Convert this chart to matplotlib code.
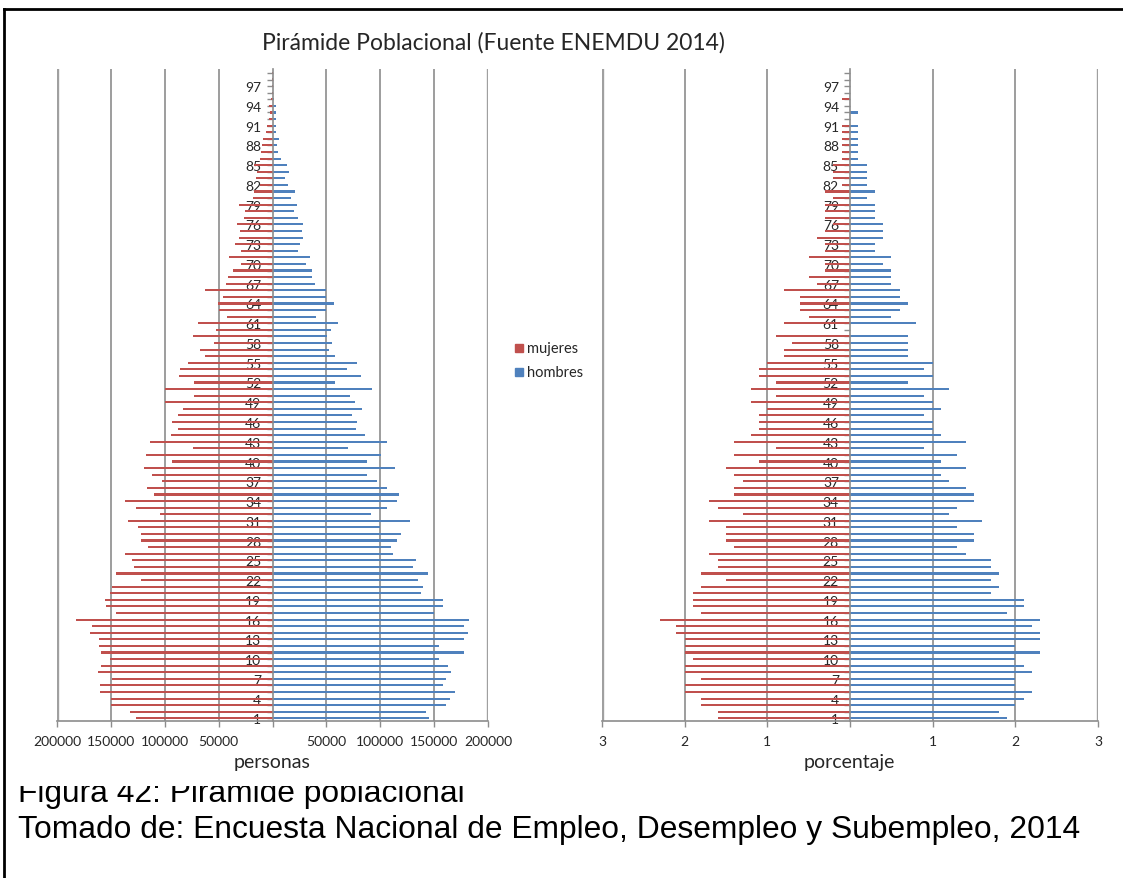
import matplotlib
matplotlib.use("Agg")
import matplotlib.pyplot as plt
import numpy as np
from matplotlib.patches import Rectangle
from matplotlib.lines import Line2D
from matplotlib.transforms import Bbox

# Edades simples 1..99
edades = list(range(1, 100))

# Número de personas por edad (ENEMDU 2014)
mujeres_personas = [
    126500, 132700, 149700, 149700, 160500, 160500, 149100, 162000, 159500, 151200,
    158900, 161400, 161100, 169100, 167300, 182700, 145000, 154900, 155800, 150600,
    149100, 122500, 145700, 128700, 130500, 136700, 115700, 121900, 121900, 124400,
    134200, 104300, 126500, 136700, 110200, 116300, 102800, 111700, 119700, 93200,
    117300, 73400, 113600, 94100, 88000, 93200, 87300, 83300, 99400, 73100,
    99400, 73100, 86400, 85800, 78100, 62600, 67300, 54000, 73400, 52500,
    68800, 42600, 49400, 50300, 45700, 63000, 43200, 41000, 36400, 29300,
    40100, 29300, 34600, 31500, 29900, 33000, 26800, 25300, 31500, 18500,
    17600, 11400, 15400, 14200, 17300, 11400, 10800, 9900, 8600, 6200,
    5200, 3700, 2500, 3100, 1500, 900, 600, 300, 200,
]
hombres_personas = [
    145700, 142000, 161100, 164500, 169100, 158300, 161100, 165700, 162900, 154300,
    178100, 154300, 178100, 181100, 177400, 182100, 149700, 158000, 158300, 137900,
    139800, 135200, 144100, 130200, 133600, 112000, 110200, 115100, 118800, 99700,
    127500, 91000, 106500, 115100, 117300, 106500, 96600, 87300, 113300, 88000,
    100900, 70100, 106500, 85800, 77200, 78700, 74100, 83300, 76500, 71600,
    92600, 57700, 81800, 69400, 78100, 58000, 52500, 55500, 50900, 54000,
    60800, 40100, 50000, 57100, 50000, 50000, 39200, 37000, 37000, 30900,
    35200, 23800, 25300, 28400, 27200, 28700, 24100, 20000, 22500, 17000,
    21000, 14500, 11400, 15400, 13900, 8300, 5200, 4600, 5600, 3700,
    3700, 3100, 3700, 3700, 1500, 900, 600, 300, 200,
]

# Porcentaje de la población por edad
mujeres_pct = [
    1.6, 1.6, 1.8, 1.8, 2.0, 2.0, 1.8, 2.0, 2.0, 1.9,
    2.0, 2.0, 2.0, 2.1, 2.1, 2.3, 1.8, 1.9, 1.9, 1.9,
    1.8, 1.5, 1.8, 1.6, 1.6, 1.7, 1.4, 1.5, 1.5, 1.5,
    1.7, 1.3, 1.6, 1.7, 1.4, 1.4, 1.3, 1.4, 1.5, 1.1,
    1.4, 0.9, 1.4, 1.2, 1.1, 1.1, 1.1, 1.0, 1.2, 0.9,
    1.2, 0.9, 1.1, 1.1, 1.0, 0.8, 0.8, 0.7, 0.9, 0.0,
    0.8, 0.5, 0.6, 0.6, 0.6, 0.8, 0.4, 0.5, 0.3, 0.3,
    0.5, 0.3, 0.3, 0.4, 0.3, 0.2, 0.3, 0.3, 0.3, 0.2,
    0.3, 0.1, 0.2, 0.2, 0.2, 0.1, 0.1, 0.1, 0.1, 0.1,
    0.1, 0.0, 0.0, 0.0, 0.1, 0.0, 0.0, 0.0, 0.0,
]
hombres_pct = [
    1.9, 1.8, 2.0, 2.1, 2.2, 2.0, 2.0, 2.2, 2.1, 2.0,
    2.3, 2.0, 2.3, 2.3, 2.2, 2.3, 1.9, 2.1, 2.1, 1.7,
    1.8, 1.7, 1.8, 1.7, 1.7, 1.4, 1.3, 1.5, 1.5, 1.3,
    1.6, 1.2, 1.3, 1.5, 1.5, 1.4, 1.2, 1.1, 1.4, 1.1,
    1.3, 0.9, 1.4, 1.1, 1.0, 1.0, 0.9, 1.1, 1.0, 0.9,
    1.2, 0.7, 1.0, 0.9, 1.0, 0.7, 0.7, 0.7, 0.7, 0.0,
    0.8, 0.5, 0.6, 0.7, 0.6, 0.6, 0.5, 0.5, 0.5, 0.4,
    0.5, 0.3, 0.3, 0.4, 0.4, 0.4, 0.3, 0.3, 0.3, 0.2,
    0.3, 0.2, 0.2, 0.2, 0.2, 0.1, 0.1, 0.1, 0.1, 0.1,
    0.1, 0.0, 0.1, 0.0, 0.0, 0.0, 0.0, 0.0, 0.0,
]

etiquetas_personas = ["200000", "150000", "100000", "50000", "",
                      "50000", "100000", "150000", "200000"]
etiquetas_pct = ["3", "2", "1", "", "1", "2", "3"]

W, H = 1123, 879
fig = plt.figure(figsize=(W / 100, H / 100), dpi=100)
fig.patch.set_facecolor("white")

ROJO = "#c0504d"
AZUL = "#4f81bd"
GRIS = "#8c8c8c"
TEXTO = "#262626"
FUENTE = "Lato"


def ejes_px(x0, x1, y_top, y_bot):
    return fig.add_axes([x0 / W, 1 - y_bot / H, (x1 - x0) / W, (y_bot - y_top) / H])


def piramide(ax, muj, hom, lim, paso, etiquetas):
    y = np.array(edades)
    ax.barh(y, -np.array(muj, dtype=float), height=0.32, color=ROJO, zorder=2, linewidth=0)
    ax.barh(y, np.array(hom, dtype=float), height=0.32, color=AZUL, zorder=2, linewidth=0)
    ax.set_xlim(-lim, lim)
    ax.set_ylim(0.6, 99.6)
    ticks = np.arange(-lim, lim + paso / 2, paso)
    for t in ticks:
        if abs(t) < 1e-9:
            continue
        borde = abs(abs(t) - lim) < 1e-9
        ax.axvline(t, color="#a0a0a0" if borde else GRIS,
                   lw=2.4 if borde else 1.2, zorder=1)
    ax.set_xticks(ticks)
    ax.set_xticklabels(etiquetas)
    ax.set_yticks(np.arange(1, 100, 3))
    ax.set_yticks(edades, minor=True)
    for s in ("top", "right"):
        ax.spines[s].set_visible(False)
    ax.spines["left"].set_position(("data", 0))
    ax.spines["left"].set_color(GRIS)
    ax.spines["left"].set_linewidth(1.2)
    ax.spines["left"].set_zorder(3)
    ax.spines["bottom"].set_color(GRIS)
    ax.spines["bottom"].set_linewidth(1.2)
    ax.tick_params(axis="x", direction="out", length=4, width=1, color=GRIS,
                   labelsize=10, labelcolor=TEXTO, pad=6)
    ax.tick_params(axis="y", which="both", direction="out", length=4, width=1,
                   color=GRIS, labelsize=10, labelcolor=TEXTO, pad=4)
    for lab in ax.get_xticklabels() + ax.get_yticklabels():
        lab.set_fontfamily(FUENTE)
    ax.set_facecolor("none")


ax1 = ejes_px(57, 488, 70, 722)
piramide(ax1, mujeres_personas, hombres_personas, 200000, 50000, etiquetas_personas)

ax2 = ejes_px(602, 1098, 70, 722)
piramide(ax2, mujeres_pct, hombres_pct, 3, 1, etiquetas_pct)

# Título y rótulos de los ejes
fig.text(493 / W, 1 - 43 / H, "Pirámide Poblacional (Fuente ENEMDU 2014)",
         ha="center", va="center", fontsize=16.5, family=FUENTE, color=TEXTO)
fig.text(272 / W, 1 - 763 / H, "personas", ha="center", va="center",
         fontsize=14, family=FUENTE, color=TEXTO)
fig.text(849 / W, 1 - 763 / H, "porcentaje", ha="center", va="center",
         fontsize=14, family=FUENTE, color=TEXTO)

# Leyenda
for yc, col, txt in ((349, ROJO, "mujeres"), (373, AZUL, "hombres")):
    fig.patches.append(Rectangle((515 / W, 1 - (yc + 4) / H), 8 / W, 8 / H,
                                 transform=fig.transFigure, color=col))
    fig.text(527 / W, 1 - yc / H, txt, ha="left", va="center", fontsize=10.5,
             family=FUENTE, color=TEXTO)

# Pie de figura (la primera línea queda recortada por arriba)
pie1 = fig.text(18 / W, 1 - 802 / H, "Figura 42: Pirámide poblacional",
                ha="left", va="baseline", fontsize=22.9, family="Liberation Sans",
                color="black")
pie1.set_clip_box(Bbox.from_extents(0, 0, W, H - 787))
pie1.set_clip_on(True)
fig.text(18 / W, 1 - 838 / H,
         "Tomado de: Encuesta Nacional de Empleo, Desempleo y Subempleo, 2014",
         ha="left", va="baseline", fontsize=22.9, family="Liberation Sans",
         color="black")

# Marco superior e izquierdo
fig.lines.append(Line2D([4 / W, 1], [1 - 10 / H, 1 - 10 / H], transform=fig.transFigure,
                        color="black", lw=2))
fig.lines.append(Line2D([4 / W, 4 / W], [1 - 10 / H, 0], transform=fig.transFigure,
                        color="black", lw=2))

fig.savefig("out.png", dpi=100, facecolor="white")
